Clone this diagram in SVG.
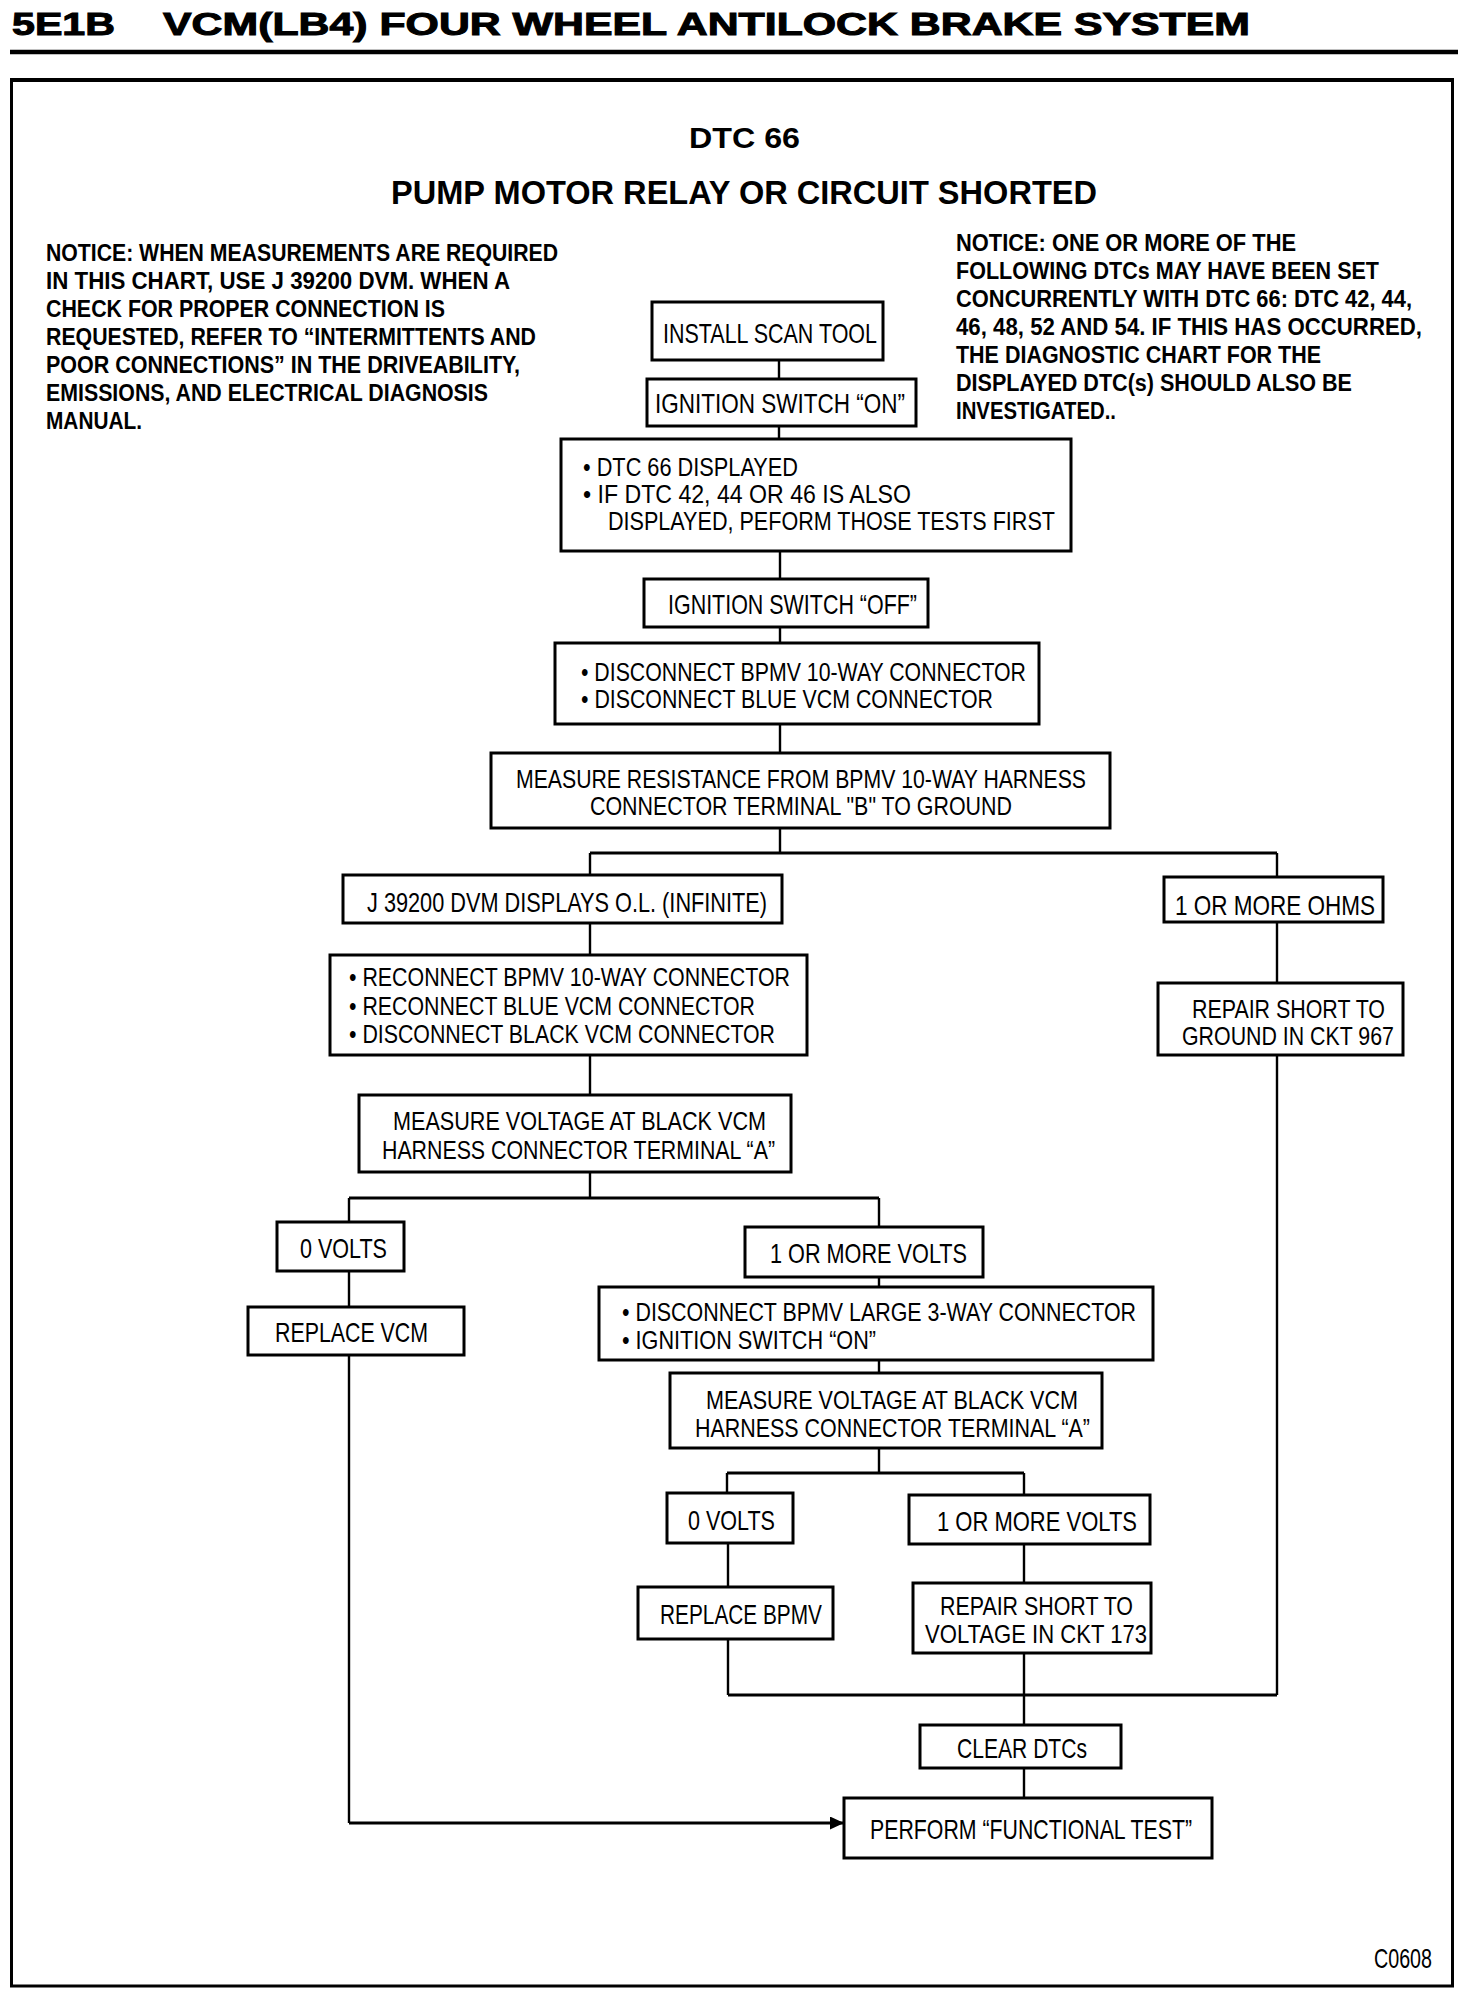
<svg xmlns="http://www.w3.org/2000/svg" width="1472" height="1996" viewBox="0 0 1472 1996">
<style>
.bg{fill:#fff}
.box{fill:#fff;stroke:#000;stroke-width:3}
.t{font-family:"Liberation Sans",Arial,sans-serif;font-size:28px;fill:#000}
.m{font-family:"Liberation Sans",Arial,sans-serif;font-size:26px;fill:#000}
.n{font-family:"Liberation Sans",Arial,sans-serif;font-size:23px;font-weight:bold;fill:#000}
.h{font-family:"Liberation Sans",Arial,sans-serif;font-weight:bold;fill:#000}
.c{fill:none;stroke:#000;stroke-width:2.4}
.ch{fill:none;stroke:#000;stroke-width:3.2}
</style>
<defs>
<marker id="arr" markerWidth="14" markerHeight="13" refX="14" refY="6.5" orient="auto" markerUnits="userSpaceOnUse">
<path d="M0,0 L14,6.5 L0,13 z" fill="#000"/>
</marker>
</defs>
<rect class="bg" x="0" y="0" width="1472" height="1996"/>
<g id="header">
<text class="h" x="12" y="35" font-size="31" textLength="103" lengthAdjust="spacingAndGlyphs" stroke="#000" stroke-width="1">5E1B</text>
<text class="h" x="163" y="35" font-size="31" textLength="1087" lengthAdjust="spacingAndGlyphs" stroke="#000" stroke-width="1">VCM(LB4) FOUR WHEEL ANTILOCK BRAKE SYSTEM</text>
<line x1="10" y1="52" x2="1458" y2="52" stroke="#000" stroke-width="4.5"/>
<rect x="11.5" y="80" width="1441" height="1906" fill="none" stroke="#000" stroke-width="3"/>
<line x1="10" y1="80" x2="1454" y2="80" stroke="#000" stroke-width="4"/>
<text class="h" x="689" y="148" font-size="29" textLength="111" lengthAdjust="spacingAndGlyphs">DTC 66</text>
<text class="h" x="391" y="204" font-size="34" textLength="706" lengthAdjust="spacingAndGlyphs">PUMP MOTOR RELAY OR CIRCUIT SHORTED</text>
<text class="t" x="1374" y="1968" font-size="26" textLength="58" lengthAdjust="spacingAndGlyphs">C0608</text>
</g>
<g id="notice-left">
<text class="n" x="46" y="261" textLength="512" lengthAdjust="spacingAndGlyphs">NOTICE: WHEN MEASUREMENTS ARE REQUIRED</text>
<text class="n" x="46" y="289" textLength="464" lengthAdjust="spacingAndGlyphs">IN THIS CHART, USE J 39200 DVM. WHEN A</text>
<text class="n" x="46" y="317" textLength="399" lengthAdjust="spacingAndGlyphs">CHECK FOR PROPER CONNECTION IS</text>
<text class="n" x="46" y="345" textLength="490" lengthAdjust="spacingAndGlyphs">REQUESTED, REFER TO “INTERMITTENTS AND</text>
<text class="n" x="46" y="373" textLength="474" lengthAdjust="spacingAndGlyphs">POOR CONNECTIONS” IN THE DRIVEABILITY,</text>
<text class="n" x="46" y="401" textLength="442" lengthAdjust="spacingAndGlyphs">EMISSIONS, AND ELECTRICAL DIAGNOSIS</text>
<text class="n" x="46" y="429" textLength="96" lengthAdjust="spacingAndGlyphs">MANUAL.</text>
</g>
<g id="notice-right">
<text class="n" x="956" y="251" textLength="340" lengthAdjust="spacingAndGlyphs">NOTICE: ONE OR MORE OF THE</text>
<text class="n" x="956" y="279" textLength="423" lengthAdjust="spacingAndGlyphs">FOLLOWING DTCs MAY HAVE BEEN SET</text>
<text class="n" x="956" y="307" textLength="456" lengthAdjust="spacingAndGlyphs">CONCURRENTLY WITH DTC 66: DTC 42, 44,</text>
<text class="n" x="956" y="335" textLength="466" lengthAdjust="spacingAndGlyphs">46, 48, 52 AND 54. IF THIS HAS OCCURRED,</text>
<text class="n" x="956" y="363" textLength="365" lengthAdjust="spacingAndGlyphs">THE DIAGNOSTIC CHART FOR THE</text>
<text class="n" x="956" y="391" textLength="396" lengthAdjust="spacingAndGlyphs">DISPLAYED DTC(s) SHOULD ALSO BE</text>
<text class="n" x="956" y="419" textLength="160" lengthAdjust="spacingAndGlyphs">INVESTIGATED..</text>
</g>
<g id="connectors">
<path class="c" d="M779,360 V379 M779,426 V439 M780,551 V579 M780,627 V643 M780,724 V753 M780,828 V853"/>
<path class="ch" d="M590,853 H1277"/>
<path class="c" d="M590,853 V875 M1277,853 V877 M590,923 V955 M590,1055 V1095 M590,1172 V1198"/>
<path class="ch" d="M349,1198 H879"/>
<path class="c" d="M349,1198 V1222 M879,1198 V1227 M349,1271 V1307 M879,1277 V1287 M879,1360 V1373 M879,1448 V1473"/>
<path class="ch" d="M727,1473 H1024"/>
<path class="c" d="M727,1473 V1493 M1024,1473 V1495 M728,1543 V1587 M1024,1544 V1583 M728,1639 V1695 M1024,1653 V1725 M1024,1768 V1798 M1277,922 V983 M1277,1055 V1695"/>
<path class="ch" d="M728,1695 H1277"/>
<path class="c" d="M349,1355 V1823"/>
<path class="ch" d="M349,1823 H844" marker-end="url(#arr)"/>
</g>
<g id="n-scan"><rect class="box" x="652" y="302" width="231" height="58"/><text class="t" x="663" y="343" textLength="214" lengthAdjust="spacingAndGlyphs">INSTALL SCAN TOOL</text></g>
<g id="n-ign-on"><rect class="box" x="647" y="379" width="269" height="47"/><text class="t" x="655" y="413" textLength="250" lengthAdjust="spacingAndGlyphs">IGNITION SWITCH “ON”</text></g>
<g id="n-dtc66"><rect class="box" x="561" y="439" width="510" height="112"/>
<text class="m"><tspan x="583" y="476" textLength="215" lengthAdjust="spacingAndGlyphs">• DTC 66 DISPLAYED</tspan><tspan x="583" y="503" textLength="328" lengthAdjust="spacingAndGlyphs">• IF DTC 42, 44 OR 46 IS ALSO</tspan><tspan x="608" y="530" textLength="447" lengthAdjust="spacingAndGlyphs">DISPLAYED, PEFORM THOSE TESTS FIRST</tspan></text></g>
<g id="n-ign-off"><rect class="box" x="644" y="579" width="284" height="48"/><text class="t" x="668" y="614" textLength="249" lengthAdjust="spacingAndGlyphs">IGNITION SWITCH “OFF”</text></g>
<g id="n-disc"><rect class="box" x="555" y="643" width="484" height="81"/>
<text class="m"><tspan x="581" y="681" textLength="445" lengthAdjust="spacingAndGlyphs">• DISCONNECT BPMV 10-WAY CONNECTOR</tspan><tspan x="581" y="708" textLength="412" lengthAdjust="spacingAndGlyphs">• DISCONNECT BLUE VCM CONNECTOR</tspan></text></g>
<g id="n-meas-res"><rect class="box" x="491" y="753" width="619" height="75"/>
<text class="m"><tspan x="516" y="788" textLength="570" lengthAdjust="spacingAndGlyphs">MEASURE RESISTANCE FROM BPMV 10-WAY HARNESS</tspan><tspan x="590" y="815" textLength="422" lengthAdjust="spacingAndGlyphs">CONNECTOR TERMINAL "B" TO GROUND</tspan></text></g>
<g id="n-ol"><rect class="box" x="343" y="875" width="439" height="48"/><text class="t" x="367" y="912" textLength="400" lengthAdjust="spacingAndGlyphs">J 39200 DVM DISPLAYS O.L. (INFINITE)</text></g>
<g id="n-ohms"><rect class="box" x="1164" y="877" width="219" height="45"/><text class="t" x="1175" y="915" textLength="200" lengthAdjust="spacingAndGlyphs">1 OR MORE OHMS</text></g>
<g id="n-reconnect"><rect class="box" x="330" y="955" width="477" height="100"/>
<text class="m"><tspan x="349" y="986" textLength="441" lengthAdjust="spacingAndGlyphs">• RECONNECT BPMV 10-WAY CONNECTOR</tspan><tspan x="349" y="1015" textLength="406" lengthAdjust="spacingAndGlyphs">• RECONNECT BLUE VCM CONNECTOR</tspan><tspan x="349" y="1043" textLength="426" lengthAdjust="spacingAndGlyphs">• DISCONNECT BLACK VCM CONNECTOR</tspan></text></g>
<g id="n-repair-gnd"><rect class="box" x="1158" y="983" width="245" height="72"/>
<text class="m"><tspan x="1192" y="1018" textLength="193" lengthAdjust="spacingAndGlyphs">REPAIR SHORT TO</tspan><tspan x="1182" y="1045" textLength="212" lengthAdjust="spacingAndGlyphs">GROUND IN CKT 967</tspan></text></g>
<g id="n-meas-v1"><rect class="box" x="359" y="1095" width="432" height="77"/>
<text class="m"><tspan x="393" y="1130" textLength="373" lengthAdjust="spacingAndGlyphs">MEASURE VOLTAGE AT BLACK VCM</tspan><tspan x="382" y="1159" textLength="393" lengthAdjust="spacingAndGlyphs">HARNESS CONNECTOR TERMINAL “A”</tspan></text></g>
<g id="n-0v1"><rect class="box" x="277" y="1222" width="127" height="49"/><text class="t" x="300" y="1258" textLength="87" lengthAdjust="spacingAndGlyphs">0 VOLTS</text></g>
<g id="n-replace-vcm"><rect class="box" x="248" y="1307" width="216" height="48"/><text class="t" x="275" y="1342" textLength="153" lengthAdjust="spacingAndGlyphs">REPLACE VCM</text></g>
<g id="n-1v1"><rect class="box" x="745" y="1227" width="238" height="50"/><text class="t" x="770" y="1263" textLength="197" lengthAdjust="spacingAndGlyphs">1 OR MORE VOLTS</text></g>
<g id="n-disc-large"><rect class="box" x="599" y="1287" width="554" height="73"/>
<text class="m"><tspan x="622" y="1321" textLength="514" lengthAdjust="spacingAndGlyphs">• DISCONNECT BPMV LARGE 3-WAY CONNECTOR</tspan><tspan x="622" y="1349" textLength="254" lengthAdjust="spacingAndGlyphs">• IGNITION SWITCH “ON”</tspan></text></g>
<g id="n-meas-v2"><rect class="box" x="670" y="1373" width="432" height="75"/>
<text class="m"><tspan x="706" y="1409" textLength="372" lengthAdjust="spacingAndGlyphs">MEASURE VOLTAGE AT BLACK VCM</tspan><tspan x="695" y="1437" textLength="395" lengthAdjust="spacingAndGlyphs">HARNESS CONNECTOR TERMINAL “A”</tspan></text></g>
<g id="n-0v2"><rect class="box" x="667" y="1493" width="126" height="50"/><text class="t" x="688" y="1530" textLength="87" lengthAdjust="spacingAndGlyphs">0 VOLTS</text></g>
<g id="n-1v2"><rect class="box" x="909" y="1495" width="241" height="49"/><text class="t" x="937" y="1531" textLength="200" lengthAdjust="spacingAndGlyphs">1 OR MORE VOLTS</text></g>
<g id="n-replace-bpmv"><rect class="box" x="638" y="1587" width="195" height="52"/><text class="t" x="660" y="1624" textLength="162" lengthAdjust="spacingAndGlyphs">REPLACE BPMV</text></g>
<g id="n-repair-volt"><rect class="box" x="913" y="1583" width="238" height="70"/>
<text class="m"><tspan x="940" y="1615" textLength="193" lengthAdjust="spacingAndGlyphs">REPAIR SHORT TO</tspan><tspan x="925" y="1643" textLength="222" lengthAdjust="spacingAndGlyphs">VOLTAGE IN CKT 173</tspan></text></g>
<g id="n-clear"><rect class="box" x="920" y="1725" width="201" height="43"/><text class="t" x="957" y="1758" textLength="130" lengthAdjust="spacingAndGlyphs">CLEAR DTCs</text></g>
<g id="n-perform"><rect class="box" x="844" y="1798" width="368" height="60"/><text class="t" x="870" y="1839" textLength="322" lengthAdjust="spacingAndGlyphs">PERFORM “FUNCTIONAL TEST”</text></g>
</svg>
